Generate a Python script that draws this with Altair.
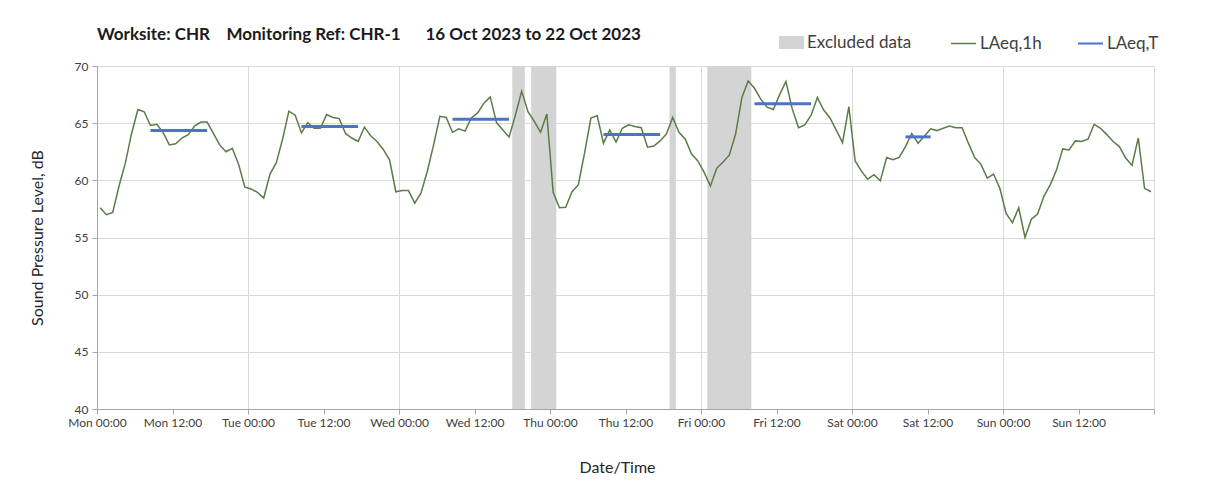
import altair as alt
import pandas as pd

# Hourly LAeq,1h values (dB), Mon 00:00 .. Sun 23:00
laeq_1h = [
    # Mon
    57.6, 57.0, 57.2, 59.5, 61.5, 64.1, 66.2, 66.0, 64.8, 64.9, 64.2, 63.1,
    63.2, 63.7, 64.0, 64.75, 65.1, 65.1, 64.1, 63.1, 62.5, 62.8, 61.4, 59.4,
    # Tue
    59.25, 58.95, 58.45, 60.55, 61.55, 63.6, 66.05, 65.7, 64.15, 65.05, 64.55, 64.55,
    65.75, 65.5, 65.4, 64.1, 63.7, 63.4, 64.65, 63.9, 63.4, 62.7, 61.8, 59.0,
    # Wed
    59.1, 59.1, 58.0, 58.9, 60.8, 63.1, 65.6, 65.5, 64.2, 64.5, 64.3, 65.45,
    65.9, 66.75, 67.3, 65.05, 64.4, 63.8, 65.7, 67.8, 66.0, 65.15, 64.2, 65.8,
    # Thu
    58.95, 57.6, 57.65, 59.0, 59.6, 62.4, 65.45, 65.65, 63.25, 64.4, 63.35, 64.55,
    64.85, 64.7, 64.6, 62.9, 63.0, 63.45, 64.05, 65.5, 64.2, 63.6, 62.3, 61.7,
    # Fri
    60.7, 59.5, 61.05, 61.6, 62.2, 64.05, 67.25, 68.7, 68.05, 67.1, 66.4, 66.2,
    67.5, 68.65, 66.25, 64.6, 64.85, 65.7, 67.25, 66.15, 65.45, 64.4, 63.3, 66.45,
    # Sat
    61.7, 60.8, 60.1, 60.5, 59.95, 62.0, 61.8, 62.0, 62.95, 64.1, 63.25, 63.85,
    64.5, 64.35, 64.55, 64.75, 64.6, 64.6, 63.25, 62.0, 61.4, 60.2, 60.55, 59.3,
    # Sun
    57.1, 56.3, 57.6, 55.0, 56.6, 57.05, 58.6, 59.6, 60.9, 62.75, 62.65, 63.45,
    63.4, 63.6, 64.9, 64.55, 64.0, 63.4, 62.95, 61.95, 61.3, 63.7, 59.3, 59.0,
]

# Excluded data periods (hours from Mon 00:00)
excl_start = [66, 69, 91, 97]
excl_end = [68, 73, 92, 104]

# LAeq,T periods: first and last hourly period included, and level
laeqT_first = [8, 32, 56, 80, 104, 128]
laeqT_last = [17, 41, 65, 89, 113, 132]
laeqT_value = [64.35, 64.7, 65.35, 64.0, 66.7, 63.8]

day_names = ["Mon", "Tue", "Wed", "Thu", "Fri", "Sat", "Sun"]
x_tick_hours = list(range(0, 169, 12))
y_ticks = [40, 45, 50, 55, 60, 65, 70]

GREY = "#d4d4d4"
GREEN = "#5b7b48"
BLUE = "#4a74c6"

FONT = "Lato"
W, H = 1057, 343

df_1h = pd.DataFrame({
    "t": [h + 0.5 for h in range(len(laeq_1h))],
    "v": laeq_1h,
    "series": "LAeq,1h",
})
df_excl = pd.DataFrame({"s": excl_start, "e": excl_end, "series": "Excluded data"})
df_T = pd.DataFrame({
    "s": [h + 0.5 for h in laeqT_first],
    "e": [h + 0.5 for h in laeqT_last],
    "v": laeqT_value,
    "series": "LAeq,T",
})

label_expr = ("datum.value >= 168 ? '' : " + str(day_names) +
              "[floor(datum.value / 24)] + ' ' + (datum.value % 24 == 0 ? '00:00' : '12:00')")

x_scale = alt.Scale(domain=[0, 168], nice=False, zero=False)
y_scale = alt.Scale(domain=[40, 70], nice=False, zero=False)

x_axis = alt.Axis(
    values=x_tick_hours, labelExpr=label_expr, title="Date/Time", grid=True,
    labelFont=FONT, labelFontSize=12, labelColor="#404040", labelPadding=3,
    titleFont=FONT, titleFontSize=16, titleFontWeight="normal", titleColor="#262626",
    titleX=520, titleY=58, titleBaseline="middle",
    tickSize=5, tickColor="#a6a6a6", domainColor="#a6a6a6",
    gridColor="#d9d9d9",
    gridOpacity={"condition": {"test": "datum.value % 24 != 0", "value": 0}, "value": 1},
    labelFlush=False, labelOverlap=False,
)
y_axis = alt.Axis(
    values=y_ticks, title="Sound Pressure Level, dB", grid=True,
    labelFont=FONT, labelFontSize=12, labelColor="#404040", labelPadding=4,
    titleFont=FONT, titleFontSize=16, titleFontWeight="normal", titleColor="#262626",
    titleX=-60, titleY=H / 2, titleBaseline="middle",
    tickSize=5, tickColor="#a6a6a6", domainColor="#a6a6a6", gridColor="#d9d9d9",
)


def make_legend(x, shape, stroke_w=1.5):
    return alt.Legend(
        orient="none", legendX=x, legendY=-36, direction="horizontal", title=None,
        symbolSize=625, symbolType=shape, symbolStrokeWidth=stroke_w,
        labelFontSize=17, labelFont=FONT, labelColor="#404040", labelOffset=3,
        padding=0, symbolOpacity=1,
    )


bands = alt.Chart(df_excl).mark_rect(opacity=1).encode(
    x=alt.X("s:Q", scale=x_scale, axis=x_axis),
    x2="e:Q",
    y=alt.datum(40, scale=y_scale, axis=y_axis, type="quantitative"),
    y2=alt.datum(70),
    fill=alt.Fill("series:N", scale=alt.Scale(domain=["Excluded data"], range=[GREY]),
                  legend=make_legend(682, "M-1,-0.52H1V0.52H-1Z", 0)),
)

line1h = alt.Chart(df_1h).mark_line(strokeWidth=1.5).encode(
    x=alt.X("t:Q", scale=x_scale, axis=x_axis),
    y=alt.Y("v:Q", scale=y_scale, axis=y_axis),
    stroke=alt.Stroke("series:N", scale=alt.Scale(domain=["LAeq,1h"], range=[GREEN]),
                      legend=make_legend(853, "stroke", 1.5)),
)

lineT = alt.Chart(df_T).mark_rule(strokeWidth=3).encode(
    x=alt.X("s:Q", scale=x_scale, axis=x_axis),
    x2="e:Q",
    y=alt.Y("v:Q", scale=y_scale, axis=y_axis),
    color=alt.Color("series:N", scale=alt.Scale(domain=["LAeq,T"], range=[BLUE]),
                    legend=make_legend(980, "stroke", 2)),
)

title_text = ("Worksite: CHR\u00a0\u00a0\u00a0\u00a0Monitoring Ref: CHR-1"
              "\u00a0\u00a0\u00a0\u00a0\u00a0\u00a016 Oct 2023 to 22 Oct 2023")

chart = alt.layer(bands, line1h, lineT).properties(
    width=W, height=H,
    title=alt.TitleParams(title_text, anchor="start", frame="group", font=FONT,
                          fontSize=17, fontWeight="bold", color="#1a1a1a", offset=20, dy=34),
    autosize=alt.AutoSizeParams(type="none"),
    padding={"left": 89, "top": 58, "right": 40, "bottom": 80},
).resolve_scale(color="independent", fill="independent", stroke="independent"
).configure_view(stroke="#a6a6a6", strokeWidth=1).configure(background="white")

chart.save("out.html", embed_options={"renderer": "svg", "actions": False})
